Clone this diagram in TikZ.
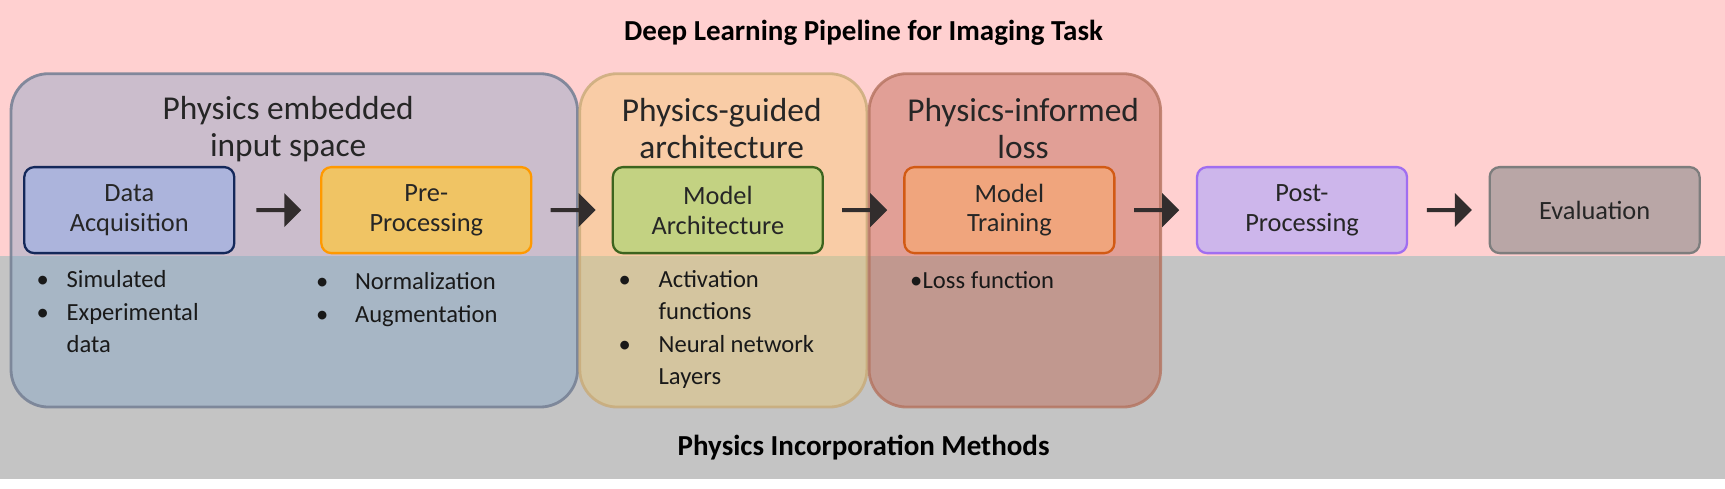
\documentclass[tikz,border=0pt]{standalone}
\usepackage{fontspec}
\setmainfont{Carlito}
\usetikzlibrary{shapes.arrows,calc}

\definecolor{bandtop}{RGB}{255,208,208}
\definecolor{bandbot}{RGB}{196,196,196}
\definecolor{blockarr}{RGB}{50,45,45}

\tikzset{
  group/.style={rounded corners=0.75cm, line width=1.6pt, fill opacity=0.38},
  stage/.style={draw, rounded corners=0.2cm, line width=1.3pt, minimum width=4.2cm,
    minimum height=1.72cm, align=center, font=\fontsize{15}{17}\selectfont, text=black!85},
  blk/.style={single arrow, fill=blockarr, draw=none, minimum width=0.68cm,
    single arrow head extend=0.05cm, minimum height=0.9cm, inner sep=0pt},
  gtitle/.style={align=center, font=\fontsize{19}{21}\selectfont, text=black!85},
  items/.style={anchor=north west, align=left, inner sep=0pt, font=\fontsize{14}{18.5}\selectfont, text=black!90},
}
\newcommand{\itm}[2][0.6cm]{\makebox[#1][l]{\textbullet}#2}

\begin{document}
\begin{tikzpicture}[x=0.022cm,y=0.022cm]
\useasboundingbox (0,0) rectangle (1568,444.5);

% Background bands
\fill[bandtop] (0,211.5) rectangle (1568,444.5);
\fill[bandbot] (0,9.5) rectangle (1568,211.5);
\node[font=\fontsize{16.5}{18}\selectfont\bfseries] (top) at (785,414.5) {Deep Learning Pipeline for Imaging Task};
\node[font=\fontsize{16.5}{18}\selectfont\bfseries] (bot) at (785,37.5) {Physics Incorporation Methods};

% Physics groups
\path[group, fill={rgb,255:red,120;green,160;blue,200}, draw={rgb,255:red,120;green,130;blue,150}, draw opacity=0.9] (10,74.5) rectangle (525,377.5);
\path[group, fill={rgb,255:red,240;green,200;blue,100}, draw={rgb,255:red,200;green,170;blue,120}, draw opacity=0.8] (527,74.5) rectangle (788,377.5);
\path[group, fill={rgb,255:red,190;green,100;blue,80}, draw={rgb,255:red,180;green,115;blue,95}, draw opacity=0.8, fill opacity=0.45] (790,74.5) rectangle (1055,377.5);

\node[gtitle] (g1) at (262,327.5) {Physics embedded\\input space};
\node[gtitle] (g2) at (656,327.5) {Physics-guided\\architecture};
\node[gtitle] (g3) at (930,327.5) {Physics-informed\\loss};

% Pipeline stages
\node[stage, fill={rgb,255:red,172;green,180;blue,220}, draw={rgb,255:red,20;green,40;blue,90}] (acq) at (117.5,253.5) {Data\\Acquisition};
\node[stage, fill={rgb,255:red,240;green,196;blue,100}, draw={rgb,255:red,255;green,153;blue,0}] (pre) at (387.5,253.5) {Pre-\\Processing};
\node[stage, fill={rgb,255:red,195;green,210;blue,130}, draw={rgb,255:red,60;green,100;blue,30}] (arch) at (652.5,253.5) {Model\\Architecture};
\node[stage, fill={rgb,255:red,240;green,165;blue,125}, draw={rgb,255:red,210;green,90;blue,20}] (train) at (917.5,253.5) {Model\\Training};
\node[stage, fill={rgb,255:red,205;green,182;blue,235}, draw={rgb,255:red,160;green,110;blue,240}] (post) at (1183.5,253.5) {Post-\\Processing};
\node[stage, fill={rgb,255:red,185;green,166;blue,166}, draw={rgb,255:red,125;green,125;blue,125}] (eval) at (1449.5,253.5) {Evaluation};

% Block arrows between stages
\foreach \a/\b in {acq/pre,pre/arch,arch/train,train/post,post/eval}
  \node[blk] (\a-\b) at ($(\a.east)!0.5!(\b.west)$) {};

% Bullet lists
\node[items] (l1) at (33,199) {\itm{Simulated}\\\itm{Experimental}\\\hspace*{0.6cm}data};
\node[items] (l2) at (287,197) {\itm[0.78cm]{Normalization}\\\itm[0.78cm]{Augmentation}};
\node[items] (l3) at (562,199) {\itm[0.8cm]{Activation}\\\hspace*{0.8cm}functions\\\itm[0.8cm]{Neural network}\\\hspace*{0.8cm}Layers};
\node[items] (l4) at (827,198) {\itm[0.25cm]{Loss function}};

\end{tikzpicture}
\end{document}
